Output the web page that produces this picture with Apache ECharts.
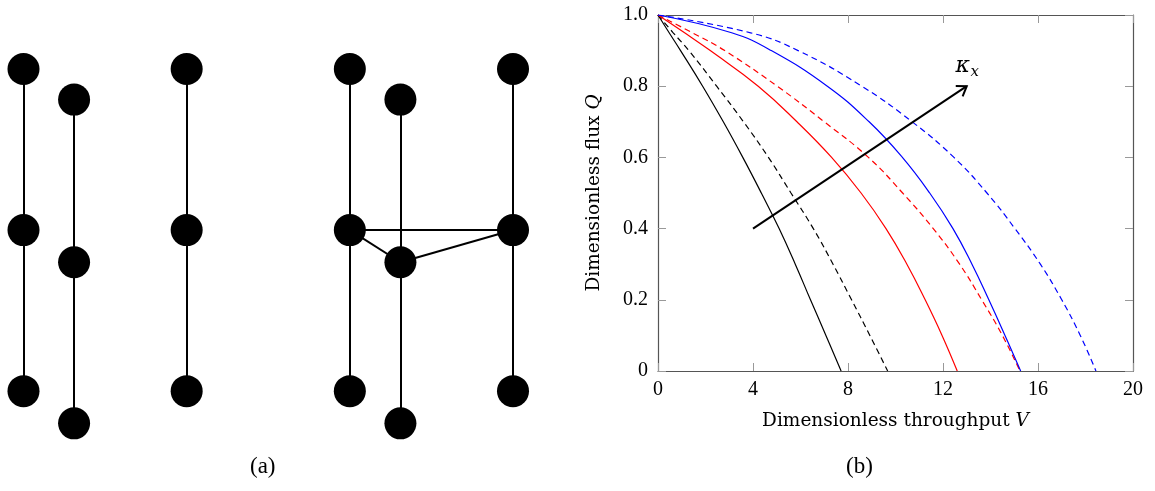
<!DOCTYPE html>
<html>
<head>
<meta charset="utf-8">
<script src="https://cdn.jsdelivr.net/npm/echarts@6/dist/echarts.min.js"></script>
<style>
  html, body { margin: 0; padding: 0; background: #fff; }
  #main { width: 1155px; height: 491px; }
</style>
</head>
<body>
<div id="main"></div>
<script>
// ---- panel (a): node columns / rows (abstract units) ----
var nodeX = [0, 0.31, 1, 2, 2.31, 3];
var rowsMain = [2, 1, 0];
var rowsShift = [1.81, 0.8, -0.2];
// column index -> which rows it uses
var colRows = [rowsMain, rowsShift, rowsMain, rowsMain, rowsShift, rowsMain];
// extra edges between middle nodes: [col, row, col, row]
var crossEdges = [[3, 1, 5, 1], [3, 1, 4, 1], [4, 1, 5, 1]];

// ---- panel (b): curves, Q levels shared, V read per curve ----
var qLevels = [1, 0.95, 0.9, 0.8, 0.7, 0.6, 0.5, 0.4, 0.3, 0.2, 0.1, 0];
var vBlackSolid  = [0, 0.47, 0.95, 1.88, 2.75, 3.57, 4.35, 5.1, 5.78, 6.42, 7.07, 7.71];
var vBlackDashed = [0, 0.64, 1.3, 2.47, 3.6, 4.65, 5.6, 6.54, 7.37, 8.15, 8.92, 9.67];
var vRedSolid    = [0, 1.12, 2.2, 4.22, 5.85, 7.31, 8.55, 9.6, 10.48, 11.25, 11.96, 12.6];
var vRedDashed   = [0, 1.45, 2.81, 5.02, 7.0, 8.86, 10.3, 11.59, 12.7, 13.63, 14.5, 15.24];
var vBlueSolid   = [0, 3.1, 4.77, 7.13, 8.89, 10.29, 11.44, 12.42, 13.22, 13.93, 14.61, 15.27];
var vBlueDashed  = [0, 3.9, 5.9, 8.58, 10.7, 12.46, 13.85, 15.03, 16.1, 17.0, 17.78, 18.44];

var xTicks = [0, 4, 8, 12, 16, 20];
var yTicks = [0, 0.2, 0.4, 0.6, 0.8, 1.0];

var arrowData = [[4, 0.4, 13, 0.8]];
var arrowLabelAt = [13, 0.855];

var serif = '"Liberation Serif", "DejaVu Serif", serif';
var wideSerif = '"DejaVu Serif", serif';

function pairs(vs) {
    return vs.map(function (v, i) { return [v, qLevels[i]]; });
}

// build graph nodes + links
var nodes = [];
var links = [];
var nodeIndex = {};
nodeX.forEach(function (x, c) {
    colRows[c].forEach(function (y, r) {
        nodeIndex[c + '_' + r] = nodes.length;
        nodes.push({ name: 'n' + c + '_' + r, value: [x, y] });
        if (r > 0) {
            links.push({ source: nodeIndex[c + '_' + (r - 1)], target: nodeIndex[c + '_' + r] });
        }
    });
});
crossEdges.forEach(function (e) {
    links.push({ source: nodeIndex[e[0] + '_' + e[1]], target: nodeIndex[e[2] + '_' + e[3]] });
});

var chart = echarts.init(document.getElementById('main'));

var tickStyle = { show: true, inside: true, length: 8, lineStyle: { color: '#999', width: 1 } };
var lineStyleAxis = { show: true, onZero: false, lineStyle: { color: '#555', width: 1.2 } };

function curve(vs, color, dashed) {
    return {
        type: 'line',
        xAxisIndex: 1,
        yAxisIndex: 1,
        data: pairs(vs),
        smooth: 0.45,
        showSymbol: false,
        symbol: 'none',
        lineStyle: { color: color, width: 1.2, type: dashed ? [6, 4] : 'solid' },
        z: 3
    };
}

var titleRich = { i: { fontStyle: 'italic', fontFamily: wideSerif, fontSize: 18.5, color: '#000' } };

chart.setOption({
    animation: false,
    backgroundColor: '#fff',
    grid: [
        { left: 23.5, top: 69, width: 489.5, bottom: 59.6 },
        { left: 658, top: 15, right: 22, bottom: 120 }
    ],
    xAxis: [
        { gridIndex: 0, type: 'value', min: 0, max: 3, show: false },
        {
            gridIndex: 1, type: 'value', min: 0, max: 20, interval: 4, position: 'bottom',
            axisLine: lineStyleAxis, axisTick: tickStyle, splitLine: { show: false },
            axisLabel: { color: '#000', fontFamily: serif, fontSize: 20, margin: 9 },
            name: 'Dimensionless throughput {i|V}',
            nameLocation: 'middle', nameGap: 41,
            nameTextStyle: { color: '#000', fontFamily: wideSerif, fontSize: 18.5, rich: titleRich }
        },
        {
            gridIndex: 1, type: 'value', min: 0, max: 20, interval: 4, position: 'top',
            axisLine: lineStyleAxis, axisTick: tickStyle, splitLine: { show: false },
            axisLabel: { show: false }
        }
    ],
    yAxis: [
        { gridIndex: 0, type: 'value', min: -0.25, max: 2, show: false },
        {
            gridIndex: 1, type: 'value', min: 0, max: 1, interval: 0.2, position: 'left',
            axisLine: lineStyleAxis, axisTick: tickStyle, splitLine: { show: false },
            axisLabel: {
                color: '#000', fontFamily: serif, fontSize: 20, margin: 10,
                formatter: function (v) { return v === 0 ? '0' : v.toFixed(1); }
            },
            name: 'Dimensionless flux {i|Q}',
            nameLocation: 'middle', nameGap: 54, nameRotate: 90,
            nameTextStyle: { color: '#000', fontFamily: wideSerif, fontSize: 18.5, rich: titleRich }
        },
        {
            gridIndex: 1, type: 'value', min: 0, max: 1, interval: 0.2, position: 'right',
            axisLine: lineStyleAxis, axisTick: tickStyle, splitLine: { show: false },
            axisLabel: { show: false }
        }
    ],
    graphic: [
        { type: 'text', left: 250, top: 455, style: { text: '(a)', font: '23px ' + serif, fill: '#000' } },
        { type: 'text', left: 846, top: 455, style: { text: '(b)', font: '23px ' + serif, fill: '#000' } }
    ],
    series: [
        {
            type: 'graph',
            coordinateSystem: 'cartesian2d',
            xAxisIndex: 0,
            yAxisIndex: 0,
            symbol: 'circle',
            symbolSize: 32,
            itemStyle: { color: '#000' },
            lineStyle: { color: '#000', width: 2, opacity: 1 },
            label: { show: false },
            data: nodes,
            links: links,
            z: 2
        },
        curve(vBlackSolid, '#000', false),
        curve(vBlackDashed, '#000', true),
        curve(vRedSolid, '#ff0000', false),
        curve(vRedDashed, '#ff0000', true),
        curve(vBlueSolid, '#0000ff', false),
        curve(vBlueDashed, '#0000ff', true),
        {
            type: 'custom',
            xAxisIndex: 1,
            yAxisIndex: 1,
            data: arrowData,
            encode: { x: [0, 2], y: [1, 3] },
            z: 5,
            renderItem: function (params, api) {
                var p0 = api.coord([api.value(0), api.value(1)]);
                var p1 = api.coord([api.value(2), api.value(3)]);
                var ang = Math.atan2(p1[1] - p0[1], p1[0] - p0[0]);
                var hl = 11, ha = 0.6;
                var h1 = [p1[0] - hl * Math.cos(ang - ha), p1[1] - hl * Math.sin(ang - ha)];
                var h2 = [p1[0] - hl * Math.cos(ang + ha), p1[1] - hl * Math.sin(ang + ha)];
                var lp = api.coord(arrowLabelAt);
                return {
                    type: 'group',
                    children: [
                        { type: 'line', shape: { x1: p0[0], y1: p0[1], x2: p1[0], y2: p1[1] },
                          style: { stroke: '#000', lineWidth: 2 } },
                        { type: 'polyline', shape: { points: [h1, p1, h2] },
                          style: { stroke: '#000', lineWidth: 2, fill: null } },
                        { type: 'text', x: lp[0] - 4, y: lp[1],
                          style: { text: 'κ', font: 'italic 22px ' + wideSerif, fill: '#000',
                                   align: 'center', verticalAlign: 'middle' } },
                        { type: 'text', x: lp[0] + 8, y: lp[1] + 5,
                          style: { text: 'x', font: 'italic 15px ' + wideSerif, fill: '#000',
                                   align: 'center', verticalAlign: 'middle' } }
                    ]
                };
            }
        }
    ]
});
</script>
</body>
</html>
